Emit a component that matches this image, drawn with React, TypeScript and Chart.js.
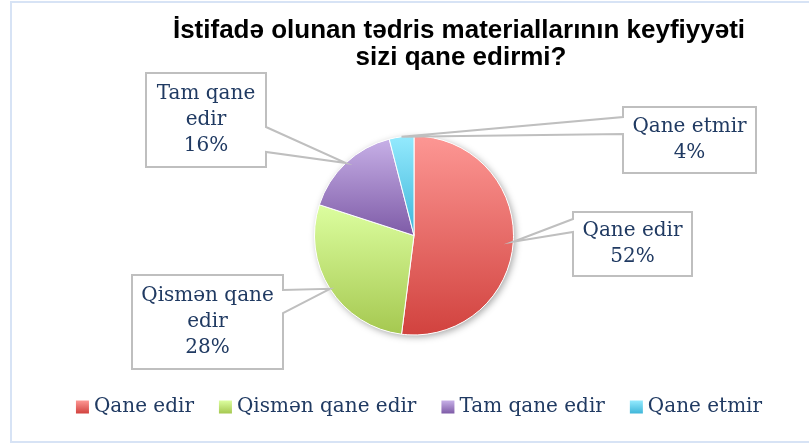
import React, { useEffect, useRef } from 'react';
import { Chart, registerables } from 'chart.js';

Chart.register(...registerables);

const titleLines = ['İstifadə olunan tədris materiallarının keyfiyyəti', 'sizi qane edirmi?'];
const categories = ['Qane edir', 'Qismən qane edir', 'Tam qane edir', 'Qane etmir'];
const values = [52, 28, 16, 4];
const calloutLines = [['Qane edir'], ['Qismən qane', 'edir'], ['Tam qane', 'edir'], ['Qane etmir']];
const topColors = ['#FD9794', '#DCFE9F', '#C7B0E7', '#94EAFE'];
const bottomColors = ['#D1423E', '#A5C850', '#7E5BA7', '#3FB6D9'];

// layout of the callout boxes (positions only)
const calloutBoxes = [
  { x: 573, y: 212, w: 119, h: 64, side: 'left', b0: 7, b1: 20 },
  { x: 132, y: 275, w: 151, h: 94, side: 'right', b0: 15, b1: 38 },
  { x: 146, y: 73, w: 120, h: 94, side: 'right', b0: 54, b1: 79 },
  { x: 623, y: 107, w: 133, h: 66, side: 'left', b0: 10, b1: 27 },
];

const W = 809;
const H = 444;
const SERIF = '20px "DejaVu Serif", "Liberation Serif", serif';
const TEXT_COLOR = '#203A62';

const total = values.reduce((a, b) => a + b, 0);

function sliceGradient(c: any) {
  const chart = c.chart;
  const area = chart.chartArea;
  const i = c.dataIndex;
  if (!area || i === undefined) return topColors[i ?? 0];
  const cx = (area.left + area.right) / 2;
  const cy = (area.top + area.bottom) / 2;
  const r = Math.min(area.width, area.height) / 2;
  let a0 = 0;
  for (let k = 0; k < i; k++) a0 += (values[k] / total) * 360;
  const a1 = a0 + (values[i] / total) * 360;
  const ys = [cy, cy - r * Math.cos((a0 * Math.PI) / 180), cy - r * Math.cos((a1 * Math.PI) / 180)];
  if (a0 <= 1e-9 || a1 >= 360 - 1e-9) ys.push(cy - r);
  if (a0 <= 180 && a1 >= 180) ys.push(cy + r);
  const g = chart.ctx.createLinearGradient(0, Math.min(...ys), 0, Math.max(...ys));
  g.addColorStop(0, topColors[i]);
  g.addColorStop(1, bottomColors[i]);
  return g;
}

const decorPlugin = {
  id: 'decor',
  beforeDraw(chart: any) {
    const ctx = chart.ctx;
    ctx.save();
    ctx.fillStyle = '#FFFFFF';
    ctx.fillRect(0, 0, W, H);
    ctx.strokeStyle = '#D7E3F5';
    ctx.lineWidth = 2;
    ctx.strokeRect(11, 2, W + 20, H - 4);
    // title
    ctx.fillStyle = '#000000';
    ctx.font = 'bold 26px "Liberation Sans", Arial, sans-serif';
    ctx.textAlign = 'center';
    ctx.textBaseline = 'alphabetic';
    ctx.fillText(titleLines[0], 459, 38);
    ctx.fillText(titleLines[1], 461, 65);
    ctx.restore();
  },
  beforeDatasetsDraw(chart: any) {
    const meta = chart.getDatasetMeta(0);
    const arc = meta.data[0];
    if (!arc) return;
    const ctx = chart.ctx;
    ctx.save();
    ctx.shadowColor = 'rgba(0,0,0,0.35)';
    ctx.shadowBlur = 7;
    ctx.shadowOffsetX = 2;
    ctx.shadowOffsetY = 2;
    ctx.fillStyle = '#FFFFFF';
    ctx.beginPath();
    ctx.arc(arc.x, arc.y, arc.outerRadius, 0, Math.PI * 2);
    ctx.fill();
    ctx.restore();
  },
  afterDraw(chart: any) {
    const ctx = chart.ctx;
    const meta = chart.getDatasetMeta(0);
    ctx.save();
    // callouts
    meta.data.forEach((arc: any, i: number) => {
      const b = calloutBoxes[i];
      const mid = (arc.startAngle + arc.endAngle) / 2;
      const tx = arc.x + Math.cos(mid) * arc.outerRadius;
      const ty = arc.y + Math.sin(mid) * arc.outerRadius;
      ctx.beginPath();
      if (b.side === 'left') {
        ctx.moveTo(b.x, b.y);
        ctx.lineTo(b.x + b.w, b.y);
        ctx.lineTo(b.x + b.w, b.y + b.h);
        ctx.lineTo(b.x, b.y + b.h);
        ctx.lineTo(b.x, b.y + b.b1);
        ctx.lineTo(tx, ty);
        ctx.lineTo(b.x, b.y + b.b0);
      } else {
        ctx.moveTo(b.x, b.y);
        ctx.lineTo(b.x + b.w, b.y);
        ctx.lineTo(b.x + b.w, b.y + b.b0);
        ctx.lineTo(tx, ty);
        ctx.lineTo(b.x + b.w, b.y + b.b1);
        ctx.lineTo(b.x + b.w, b.y + b.h);
        ctx.lineTo(b.x, b.y + b.h);
      }
      ctx.closePath();
      ctx.fillStyle = '#FFFFFF';
      ctx.fill();
      ctx.strokeStyle = '#BFBFBF';
      ctx.lineWidth = 2;
      ctx.lineJoin = 'miter';
      ctx.stroke();
      const lines = [...calloutLines[i], `${Math.round((values[i] / total) * 100)}%`];
      const lh = 26;
      const cy = b.y + b.h / 2;
      ctx.fillStyle = TEXT_COLOR;
      ctx.font = SERIF;
      ctx.textAlign = 'center';
      ctx.textBaseline = 'middle';
      lines.forEach((t, k) => {
        ctx.fillText(t, b.x + b.w / 2, cy + (k - (lines.length - 1) / 2) * lh);
      });
    });
    // legend
    ctx.font = SERIF;
    const box = 13;
    const gap = 5;
    const spacing = 25;
    const widths = categories.map((c) => ctx.measureText(c).width);
    const totalW = widths.reduce((a, w) => a + box + gap + w, 0) + spacing * (categories.length - 1);
    let x = 419 - totalW / 2;
    const ly = 407;
    categories.forEach((c, i) => {
      const g = ctx.createLinearGradient(0, ly - box / 2, 0, ly + box / 2);
      g.addColorStop(0, topColors[i]);
      g.addColorStop(1, bottomColors[i]);
      ctx.fillStyle = g;
      ctx.fillRect(x, ly - box / 2, box, box);
      ctx.fillStyle = TEXT_COLOR;
      ctx.textAlign = 'left';
      ctx.textBaseline = 'middle';
      ctx.fillText(c, x + box + gap, ly);
      x += box + gap + widths[i] + spacing;
    });
    ctx.restore();
  },
};

export default function App() {
  const ref = useRef<HTMLCanvasElement>(null);
  useEffect(() => {
    document.body.style.margin = '0';
    const canvas = ref.current;
    if (!canvas) return;
    const chart = new Chart(canvas, {
      type: 'pie',
      data: {
        labels: categories,
        datasets: [
          {
            data: values,
            backgroundColor: sliceGradient as any,
            borderColor: '#FFFFFF',
            borderWidth: 1,
          },
        ],
      },
      options: {
        responsive: false,
        animation: false,
        devicePixelRatio: 1,
        layout: { padding: { left: 314, right: 295, top: 135, bottom: 108 } },
        plugins: {
          legend: { display: false },
          title: { display: false },
          tooltip: { enabled: false },
        },
      },
      plugins: [decorPlugin],
    });
    return () => chart.destroy();
  }, []);
  return (
    <div style={{ width: W, height: H }}>
      <canvas ref={ref} width={W} height={H} style={{ width: W, height: H, display: 'block' }} />
    </div>
  );
}
